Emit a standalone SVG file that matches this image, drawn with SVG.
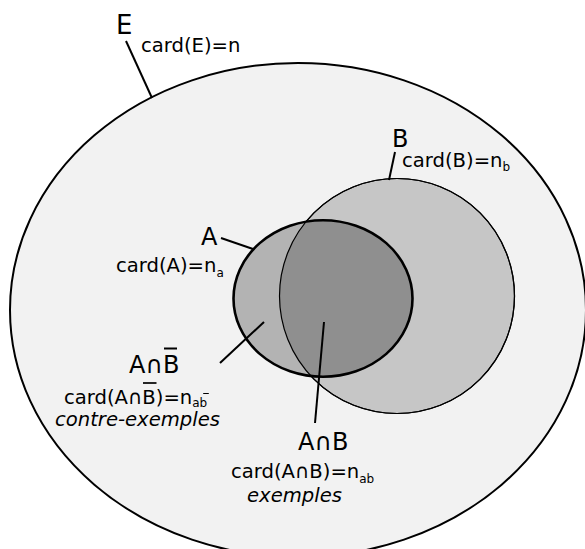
<svg xmlns="http://www.w3.org/2000/svg" width="585" height="549" viewBox="0 0 585 549">
<style>
text{font-family:"DejaVu Sans","Liberation Sans",sans-serif;fill:#000}
.lbl{font-size:24px}
.card{font-size:19.6px}
.sub{font-size:12px}
.it{font-size:19.6px;font-style:italic}
.lead{stroke:#000;stroke-width:2;fill:none}
</style>
<defs>
<clipPath id="clipA"><ellipse cx="323" cy="298.5" rx="89.5" ry="78.3"/></clipPath>
</defs>
<g id="E">
<ellipse cx="298" cy="310" rx="288" ry="247" fill="#f2f2f2" stroke="#000" stroke-width="2"/>
<text class="lbl" x="116" y="33.5" style="font-size:26px">E</text>
<text class="card" x="141" y="52">card(E)=n</text>
</g>
<g id="B">
<circle cx="397" cy="296" r="117.5" fill="#c6c6c6" stroke="#000" stroke-width="1.2"/>
<text class="lbl" x="392" y="147">B</text>
<text class="card" x="402" y="167">card(B)=n<tspan class="sub" dy="4">b</tspan></text>
</g>
<g id="A">
<ellipse cx="323" cy="298.5" rx="89.5" ry="78.3" fill="#b3b3b3"/>
<circle cx="397" cy="296" r="117.5" fill="#8f8f8f" clip-path="url(#clipA)"/>
<circle cx="397" cy="296" r="117.5" fill="none" stroke="#000" stroke-width="1.2"/>
<ellipse cx="323" cy="298.5" rx="89.5" ry="78.3" fill="none" stroke="#000" stroke-width="2.6"/>
<text class="lbl" x="201" y="245">A</text>
<text class="card" x="116" y="272">card(A)=n<tspan class="sub" dy="5">a</tspan></text>
</g>
<g id="AnotB">
<text class="lbl" x="129" y="372.5">A∩B</text>
<line x1="164" y1="348.5" x2="177" y2="348.5" stroke="#000" stroke-width="2"/>
<text class="card" x="64" y="403.5">card(A∩B)=n<tspan class="sub" dy="3">ab</tspan></text>
<line x1="143" y1="383" x2="156.5" y2="383" stroke="#000" stroke-width="1.7"/>
<line x1="203.2" y1="393.5" x2="208.8" y2="393.5" stroke="#000" stroke-width="1"/>
<text class="it" x="55" y="426">contre-exemples</text>
</g>
<g id="AandB">
<text class="lbl" x="298" y="450">A∩B</text>
<text class="card" x="231" y="477.5">card(A∩B)=n<tspan class="sub" dy="5">ab</tspan></text>
<text class="it" x="247" y="502">exemples</text>
</g>
<g id="connectors">
<line class="lead" x1="126" y1="41" x2="152" y2="98"/>
<line class="lead" x1="395" y1="152" x2="389" y2="180"/>
<line class="lead" x1="221" y1="238" x2="253" y2="249"/>
<line class="lead" x1="220" y1="363" x2="264" y2="322"/>
<line class="lead" x1="315" y1="423" x2="324" y2="322"/>
</g>
</svg>
